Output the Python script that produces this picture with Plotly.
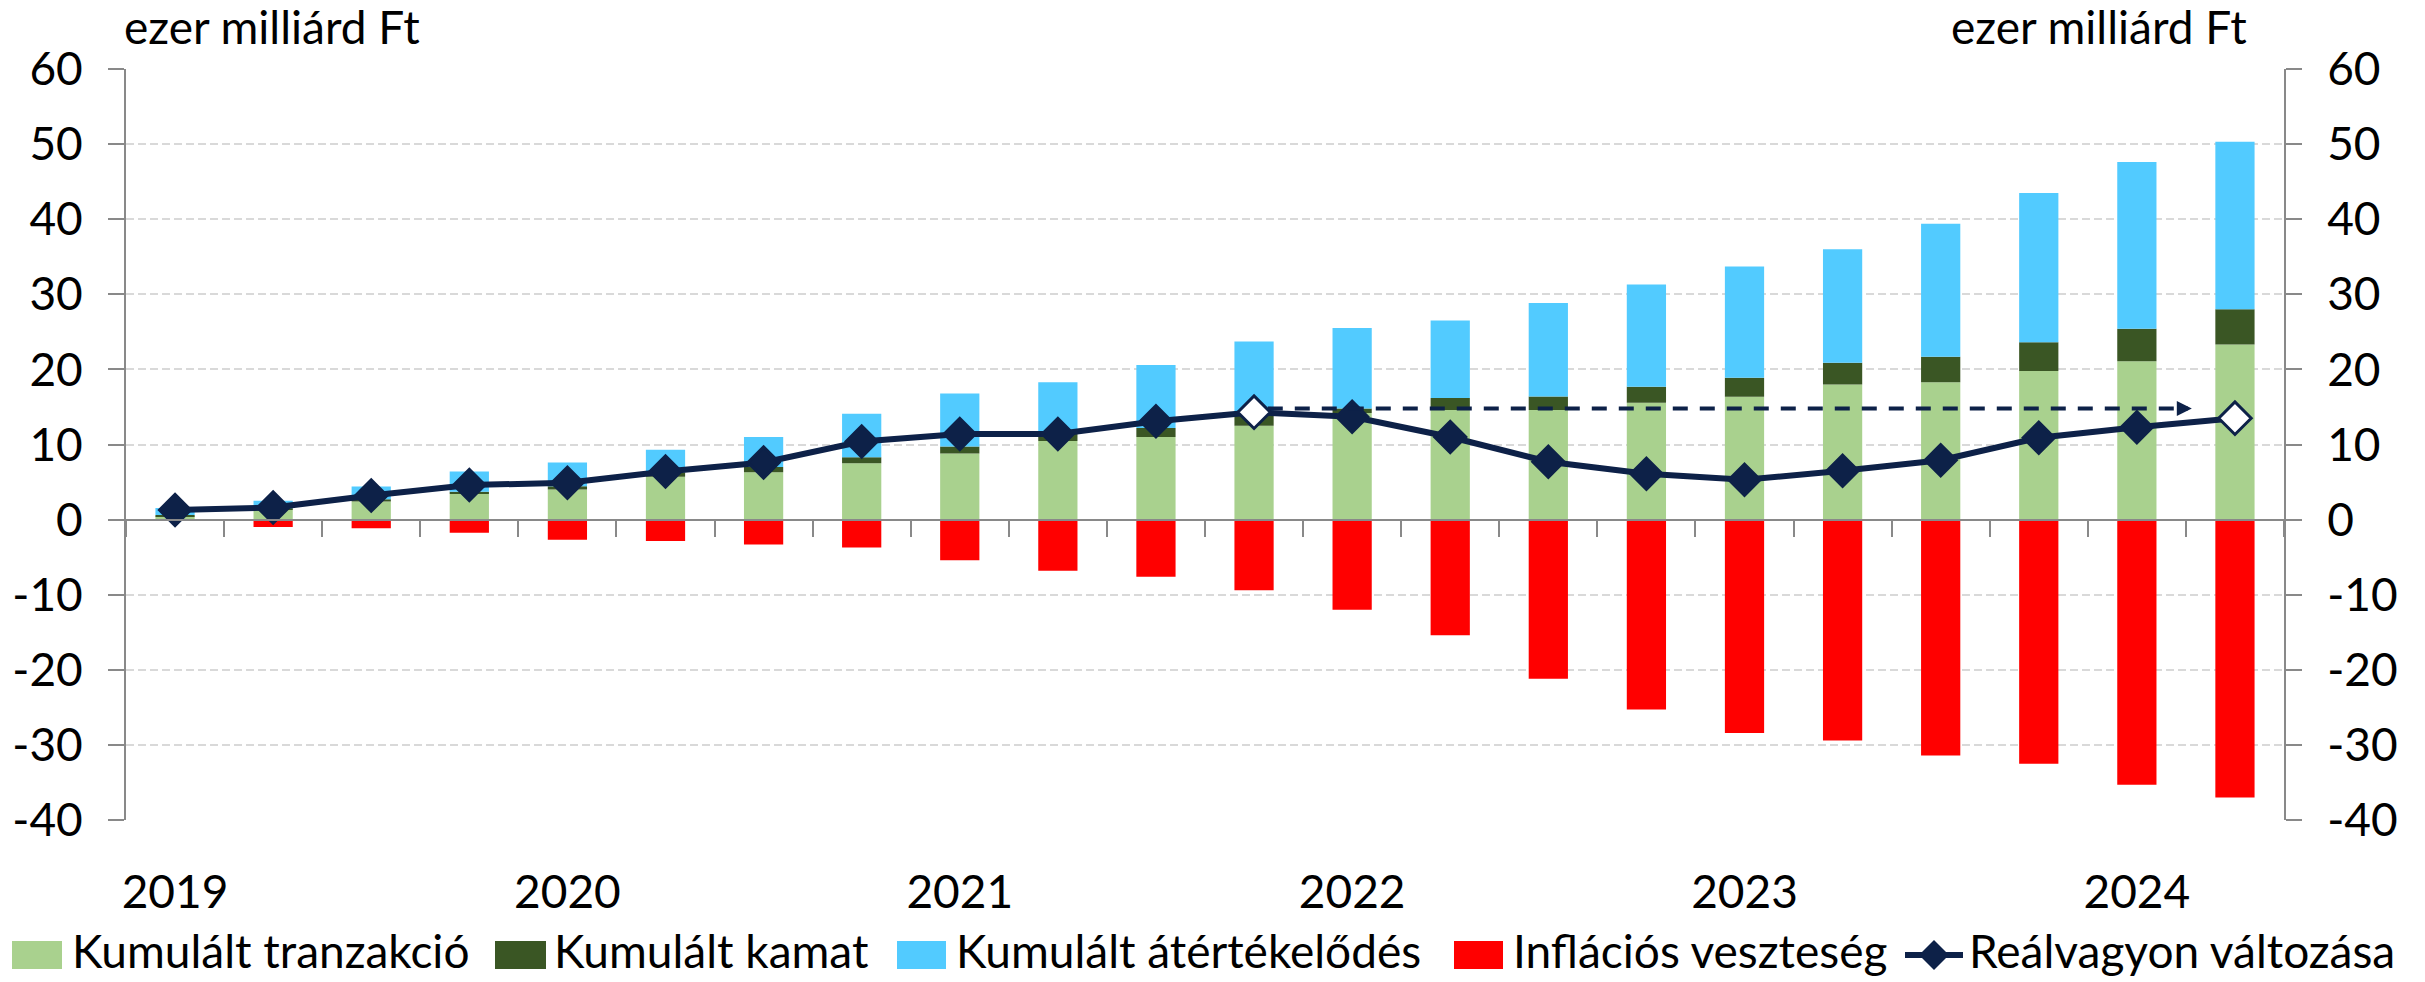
import plotly.graph_objects as go

# ---------------- data ----------------
quarters = [f"{y} Q{q}" for y in range(2019, 2025) for q in range(1, 5)][:22]
year_ticks = ["2019 Q1", "2020 Q1", "2021 Q1", "2022 Q1", "2023 Q1", "2024 Q1"]
year_labels = ["2019", "2020", "2021", "2022", "2023", "2024"]

kum_tranzakcio = [0.4, 1.4, 2.4, 3.4, 4.0, 5.7, 6.3, 7.5, 8.8, 10.45, 11.0,
                  12.5, 14.2, 14.6, 14.6, 15.55, 16.35, 18.0, 18.3, 19.8, 21.1, 23.3]
kum_kamat = [0.2, 0.1, 0.3, 0.3, 0.45, 0.6, 0.7, 0.8, 0.95, 0.95, 1.2,
             1.5, 0.6, 1.6, 1.8, 2.15, 2.55, 2.9, 3.4, 3.8, 4.3, 4.7]
kum_atertekelodes = [0.95, 1.0, 1.7, 2.7, 3.15, 3.0, 4.0, 5.8, 7.05, 6.9, 8.4,
                     9.7, 10.7, 10.3, 12.45, 13.6, 14.8, 15.1, 17.7, 19.9, 22.2, 22.3]
inflacios_veszteseg = [-0.2, -1.0, -1.16, -1.74, -2.67, -2.85, -3.3, -3.7, -5.4, -6.8, -7.6,
                       -9.4, -12.0, -15.4, -21.2, -25.3, -28.4, -29.4, -31.4, -32.5, -35.3, -37.0]
realvagyon_valtozasa = [1.27, 1.6, 3.2, 4.6, 4.9, 6.4, 7.6, 10.4, 11.4, 11.4, 13.1,
                        14.3, 13.7, 11.0, 7.7, 6.1, 5.3, 6.5, 7.9, 10.9, 12.3, 13.5]
hollow_idx = [11, 21]          # highlighted points (white diamonds)
ref_level = 14.8               # level of the dashed reference arrow

series_names = ["Kumulált tranzakció", "Kumulált kamat", "Kumulált átértékelődés",
                "Inflációs veszteség", "Reálvagyon változása"]
unit_label = "ezer milliárd Ft"

# ---------------- style ----------------
C_GREEN = "#A9D18E"
C_DGREEN = "#3A5624"
C_BLUE = "#52CBFF"
C_RED = "#FF0000"
C_NAVY = "#0D2148"
C_AXIS = "#898989"
C_GRID = "#D9D9D9"
FONT = "Lato"
FS = 46

W, H = 2425, 982
L, R, T, B = 126, 2284, 69, 820


def px_x(p):
    return (p - L) / (R - L)


def px_y(p):
    return (B - p) / (B - T)


fig = go.Figure()
bar_kw = dict(width=0.4, marker_line_width=0, showlegend=False)
fig.add_bar(x=quarters, y=kum_tranzakcio, name=series_names[0], marker_color=C_GREEN, **bar_kw)
fig.add_bar(x=quarters, y=kum_kamat, name=series_names[1], marker_color=C_DGREEN, **bar_kw)
fig.add_bar(x=quarters, y=kum_atertekelodes, name=series_names[2], marker_color=C_BLUE, **bar_kw)
fig.add_bar(x=quarters, y=inflacios_veszteseg, name=series_names[3], marker_color=C_RED, **bar_kw)

n = len(quarters)
m_fill = ["#FFFFFF" if i in hollow_idx else C_NAVY for i in range(n)]
m_size = [25 if i in hollow_idx else 24 for i in range(n)]
fig.add_scatter(x=quarters, y=realvagyon_valtozasa, name=series_names[4], mode="lines+markers",
                line=dict(color=C_NAVY, width=6), opacity=1,
                marker=dict(symbol="diamond", size=m_size, color=m_fill, opacity=1,
                            line=dict(color=C_NAVY, width=3)),
                showlegend=False)

# helper trace for secondary axes (zero-line ticks and right axis)
fig.add_scatter(x=[None], y=[None], xaxis="x2", yaxis="y2", showlegend=False,
                hoverinfo="skip", mode="markers")

# dashed reference arrow
arrow_start = hollow_idx[0] + 0.14
arrow_end = hollow_idx[1] - 0.44
fig.add_shape(type="line", xref="x", yref="y", x0=arrow_start, x1=arrow_end - 0.12,
              y0=ref_level, y1=ref_level,
              line=dict(color=C_NAVY, width=4, dash="15px,12px"))
fig.add_annotation(x=arrow_end, y=ref_level, ax=arrow_end - 0.15, ay=ref_level,
                   xref="x", yref="y", axref="x", ayref="y", text="", showarrow=True,
                   arrowhead=2, arrowsize=0.75, arrowwidth=4, arrowcolor=C_NAVY)

# unit labels
fig.add_annotation(x=px_x(122), y=px_y(26), xref="paper", yref="paper", text=unit_label,
                   showarrow=False, xanchor="left", yanchor="middle",
                   font=dict(family=FONT, size=FS, color="black"))
fig.add_annotation(x=px_x(2249), y=px_y(26), xref="paper", yref="paper", text=unit_label,
                   showarrow=False, xanchor="right", yanchor="middle",
                   font=dict(family=FONT, size=FS, color="black"))

# custom legend
leg_y0, leg_y1 = 941, 969
leg_cy = (leg_y0 + leg_y1) / 2
txt_cy = 950
boxes = [(12, 62, C_GREEN, 70), (495, 546, C_DGREEN, 552), (897, 946, C_BLUE, 954),
         (1454, 1503, C_RED, 1511)]
for (bx0, bx1, col, tx), name in zip(boxes, series_names[:4]):
    fig.add_shape(type="rect", xref="paper", yref="paper", x0=px_x(bx0), x1=px_x(bx1),
                  y0=px_y(leg_y1), y1=px_y(leg_y0), fillcolor=col, line_width=0)
    fig.add_annotation(x=px_x(tx), y=px_y(txt_cy), xref="paper", yref="paper", text=name,
                       showarrow=False, xanchor="left", yanchor="middle",
                       font=dict(family=FONT, size=FS, color="black"))
fig.add_shape(type="line", xref="paper", yref="paper", x0=px_x(1905), x1=px_x(1963),
              y0=px_y(leg_cy), y1=px_y(leg_cy), line=dict(color=C_NAVY, width=6))
dcx, dr = 1934, 15
fig.add_shape(type="path", xref="paper", yref="paper",
              path=(f"M{px_x(dcx - dr)},{px_y(leg_cy)} L{px_x(dcx)},{px_y(leg_cy - dr)} "
                    f"L{px_x(dcx + dr)},{px_y(leg_cy)} L{px_x(dcx)},{px_y(leg_cy + dr)} Z"),
              fillcolor=C_NAVY, line_width=0)
fig.add_annotation(x=px_x(1967), y=px_y(txt_cy), xref="paper", yref="paper",
                   text=series_names[4], showarrow=False, xanchor="left", yanchor="middle",
                   font=dict(family=FONT, size=FS, color="black"))

yticks = list(range(-40, 61, 10))
yax = dict(range=[-40, 60], tickvals=yticks, ticktext=[str(v) for v in yticks],
           ticks="outside", ticklen=16, tickwidth=2, tickcolor=C_AXIS,
           showline=True, linecolor=C_AXIS, linewidth=2, zeroline=False,
           tickfont=dict(family=FONT, size=FS, color="black"), automargin=False,
           ticklabelstandoff=16, fixedrange=True)

fig.update_layout(
    width=W, height=H, margin=dict(l=L, r=W - R, t=T, b=H - B, pad=0),
    plot_bgcolor="white", paper_bgcolor="white", barmode="relative", bargap=0.6,
    showlegend=False,
    font=dict(family=FONT, size=FS, color="black"),
    xaxis=dict(type="category", categoryorder="array", categoryarray=quarters,
               range=[-0.5, n - 0.5], tickmode="array", tickvals=year_ticks,
               ticktext=year_labels, ticks="outside", ticklen=32,
               tickcolor="rgba(0,0,0,0)", showline=False, showgrid=False, zeroline=False,
               tickfont=dict(family=FONT, size=FS, color="black"), automargin=False),
    xaxis2=dict(type="linear", overlaying="x", anchor="free", position=0.4,
                range=[-0.5, n - 0.5], tickmode="array",
                tickvals=[i + 0.5 for i in range(-1, n)], ticks="outside", ticklen=16,
                tickwidth=2, tickcolor=C_AXIS, showticklabels=False, showline=True,
                linecolor=C_AXIS, linewidth=2, showgrid=False, zeroline=False,
                automargin=False),
    yaxis=dict(**yax, showgrid=True, gridcolor=C_GRID, gridwidth=2, griddash="8px,4px"),
    yaxis2=dict(**yax, overlaying="y", side="right", anchor="x", showgrid=False),
)

fig.write_html("out.html", config={"displayModeBar": False},
               post_script="document.body.style.margin='0px';document.body.style.overflow='hidden';")
